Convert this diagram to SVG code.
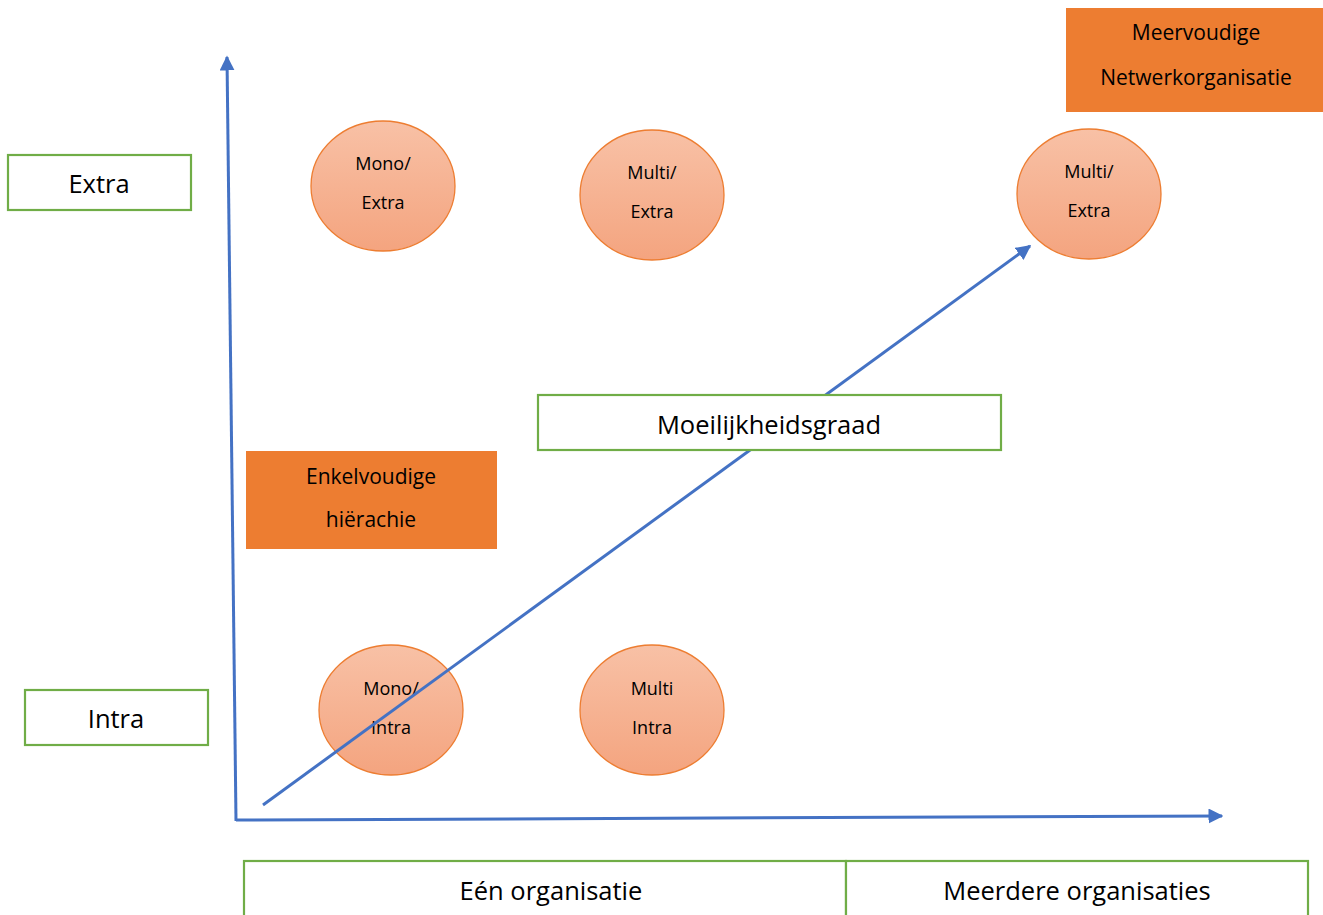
<svg xmlns="http://www.w3.org/2000/svg" width="1323" height="915" viewBox="0 0 1323 915">
<defs>
<linearGradient id="g" x1="0" y1="0" x2="0" y2="1">
<stop offset="0" stop-color="#F8C1A6"/>
<stop offset="1" stop-color="#F4A47F"/>
</linearGradient>
<marker id="ah" viewBox="0 0 10 10" refX="9" refY="5" markerWidth="5" markerHeight="5" orient="auto" markerUnits="strokeWidth">
<path d="M0,0 L10,5 L0,10 z" fill="#4472C4"/>
</marker>
<style>
.e{fill:url(#g);stroke:#ED7D31;stroke-width:1.3}
.gb{fill:#fff;stroke:#70AD47;stroke-width:2.2}
.ob{fill:#ED7D31}
.t{font-family:"Open Sans",Lato,sans-serif;fill:#000;text-anchor:middle}
.s{font-size:18px}
.m{font-size:21px}
.l{font-size:25.5px}
.c{stroke:#4472C4;stroke-width:3;fill:none;marker-end:url(#ah)}
</style>
</defs>
<rect width="1323" height="915" fill="#fff"/>
<g id="mono-extra"><ellipse class="e" cx="383" cy="186" rx="72" ry="65"/><text class="t s" x="383" y="170">Mono/</text><text class="t s" x="383" y="209">Extra</text></g>
<g id="multi-extra-1"><ellipse class="e" cx="652" cy="195" rx="72" ry="65"/><text class="t s" x="652" y="179">Multi/</text><text class="t s" x="652" y="218">Extra</text></g>
<g id="multi-extra-2"><ellipse class="e" cx="1089" cy="194" rx="72" ry="65"/><text class="t s" x="1089" y="178">Multi/</text><text class="t s" x="1089" y="217">Extra</text></g>
<g id="mono-intra"><ellipse class="e" cx="391" cy="710" rx="72" ry="65"/><text class="t s" x="391" y="695">Mono/</text><text class="t s" x="391" y="734">Intra</text></g>
<g id="multi-intra"><ellipse class="e" cx="652" cy="710" rx="72" ry="65"/><text class="t s" x="652" y="695">Multi</text><text class="t s" x="652" y="734">Intra</text></g>
<g id="connectors">
<line class="c" x1="236" y1="821" x2="227" y2="57"/>
<line class="c" x1="236" y1="820" x2="1222" y2="816"/>
<line class="c" x1="263" y1="805" x2="1030" y2="246"/>
</g>
<g id="meervoudige"><rect class="ob" x="1066" y="8" width="257" height="104"/><text class="t m" x="1196" y="40">Meervoudige</text><text class="t m" x="1196" y="85">Netwerkorganisatie</text></g>
<g id="enkelvoudige"><rect class="ob" x="246" y="451" width="251" height="98"/><text class="t m" x="371" y="484">Enkelvoudige</text><text class="t m" x="371" y="527">hiërachie</text></g>
<g id="extra"><rect class="gb" x="8" y="155" width="183" height="55"/><text class="t l" x="99" y="193">Extra</text></g>
<g id="intra"><rect class="gb" x="25" y="690" width="183" height="55"/><text class="t l" x="116" y="728">Intra</text></g>
<g id="moeilijkheidsgraad"><rect class="gb" x="538" y="395" width="463" height="55"/><text class="t l" x="769" y="434">Moeilijkheidsgraad</text></g>
<g id="een-organisatie"><rect class="gb" x="244" y="861" width="602" height="60"/><text class="t l" x="551" y="900">Eén organisatie</text></g>
<g id="meerdere-organisaties"><rect class="gb" x="846" y="861" width="462" height="60"/><text class="t l" x="1077" y="900">Meerdere organisaties</text></g>
</svg>
